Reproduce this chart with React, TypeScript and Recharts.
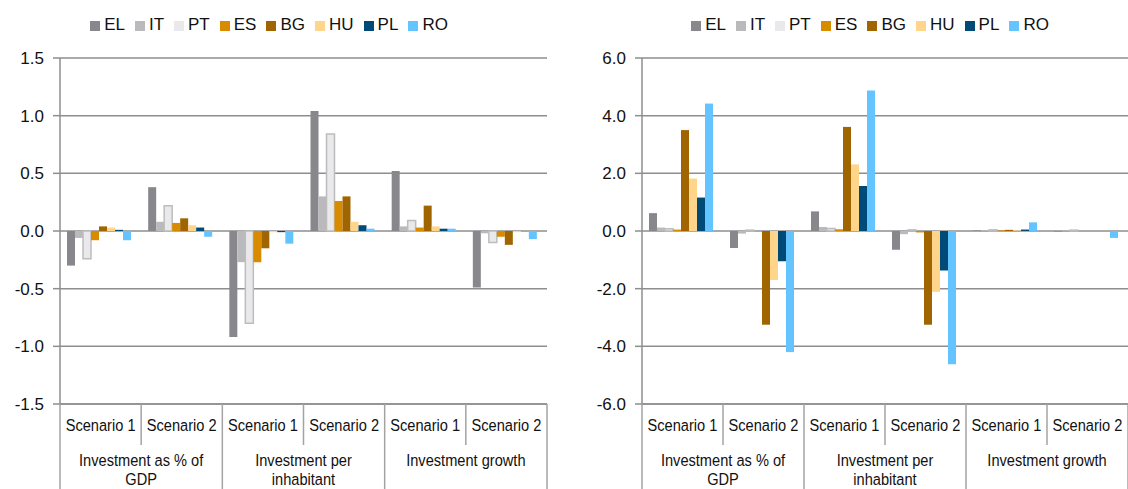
import { Bar, BarChart, CartesianGrid, Legend, XAxis, YAxis } from 'recharts'

const scenarios = ['Scenario 1', 'Scenario 2', 'Scenario 1', 'Scenario 2', 'Scenario 1', 'Scenario 2']
const groupLines = [['Investment as % of', 'GDP'], ['Investment per', 'inhabitant'], ['Investment growth']]
const countries = ['EL', 'IT', 'PT', 'ES', 'BG', 'HU', 'PL', 'RO']

// left panel
const leftEL = [-0.3, 0.38, -0.92, 1.04, 0.52, -0.49]
const leftIT = [-0.06, 0.08, -0.27, 0.3, 0.04, -0.02]
const leftPT = [-0.24, 0.22, -0.8, 0.84, 0.09, -0.1]
const leftES = [-0.08, 0.07, -0.27, 0.26, 0.03, -0.05]
const leftBG = [0.04, 0.11, -0.15, 0.3, 0.22, -0.12]
const leftHU = [0.03, 0.05, -0.01, 0.08, 0.04, -0.01]
const leftPL = [0.01, 0.03, -0.01, 0.05, 0.02, 0.0]
const leftRO = [-0.08, -0.05, -0.11, 0.02, 0.02, -0.07]
const leftTicks = [-1.5, -1.0, -0.5, 0, 0.5, 1.0, 1.5]

// right panel
const rightEL = [0.62, -0.59, 0.68, -0.65, 0.02, -0.02]
const rightIT = [0.12, -0.09, 0.14, -0.11, 0.03, 0.02]
const rightPT = [0.08, 0.03, 0.09, 0.04, 0.04, 0.03]
const rightES = [0.05, 0.0, 0.06, -0.05, 0.02, 0.0]
const rightBG = [3.5, -3.25, 3.61, -3.25, 0.04, 0.0]
const rightHU = [1.82, -1.7, 2.31, -2.11, 0.02, 0.0]
const rightPL = [1.16, -1.05, 1.56, -1.37, 0.05, 0.0]
const rightRO = [4.42, -4.2, 4.87, -4.62, 0.3, -0.24]
const rightTicks = [-6, -4, -2, 0, 2, 4, 6]

const colors: Record<string, string> = {
  EL: '#88878c',
  IT: '#bababd',
  PT: '#e9e9eb',
  ES: '#d98b00',
  BG: '#a06500',
  HU: '#ffd58c',
  PL: '#004a78',
  RO: '#63c4ff',
}

const FONT = "'Liberation Sans', Arial, sans-serif"
const LINE = '#a3a3a3'

function buildRows(series: number[][]) {
  return scenarios.map((s, i) => {
    const row: Record<string, string | number> = { scenario: s }
    countries.forEach((c, k) => {
      row[c] = series[k][i]
    })
    return row
  })
}

const leftData = buildRows([leftEL, leftIT, leftPT, leftES, leftBG, leftHU, leftPL, leftRO])
const rightData = buildRows([rightEL, rightIT, rightPT, rightES, rightBG, rightHU, rightPL, rightRO])

// text squeezed horizontally, the source used a narrow face
function NarrowText({ x, y, children }: { x: number; y: number; children: string }) {
  return (
    <text transform={`translate(${x},${y}) scale(0.86,1)`} textAnchor="middle" fontSize={17} fontFamily={FONT} fill="#111">
      {children}
    </text>
  )
}

function CategoryTick(props: any) {
  const { x, y, payload } = props
  const half = payload.offset || 0
  const idx = payload.index
  const isGroupStart = idx % 2 === 0
  const lines = isGroupStart ? groupLines[idx / 2] : null
  return (
    <g>
      <line x1={x - half} x2={x - half} y1={y} y2={isGroupStart ? y + 90 : y + 41} stroke={LINE} strokeWidth={1.5} />
      {idx === scenarios.length - 1 && (
        <line x1={x + half} x2={x + half} y1={y} y2={y + 90} stroke={LINE} strokeWidth={1.5} />
      )}
      <NarrowText x={x} y={y + 27}>{payload.value}</NarrowText>
      {lines &&
        lines.map((t, j) => (
          <NarrowText key={j} x={x + half} y={y + 62 + j * 19}>
            {t}
          </NarrowText>
        ))}
    </g>
  )
}

function Panel({
  data,
  ticks,
  width,
  axisWidth,
  rightMargin,
  legendWidth,
}: {
  data: Record<string, string | number>[]
  ticks: number[]
  width: number
  axisWidth: number
  rightMargin: number
  legendWidth: number
}) {
  return (
    <BarChart
      width={width}
      height={489}
      data={data}
      margin={{ top: 38, right: rightMargin, left: 0, bottom: 0 }}
      barCategoryGap={7}
      barGap={0}
    >
      <CartesianGrid vertical={false} stroke="#8e8e8e" strokeWidth={1.5} />
      <XAxis
        dataKey="scenario"
        interval={0}
        height={85}
        tickLine={false}
        tickSize={0}
        tickMargin={0}
        axisLine={{ stroke: '#8e8e8e', strokeWidth: 1.5 }}
        tick={<CategoryTick />}
      />
      <YAxis
        width={axisWidth}
        domain={[ticks[0], ticks[ticks.length - 1]]}
        ticks={ticks}
        tickSize={7}
        tickMargin={9}
        tickLine={{ stroke: '#8e8e8e', strokeWidth: 1.5 }}
        axisLine={{ stroke: '#8e8e8e', strokeWidth: 1.5 }}
        tick={{ fontSize: 17, fill: '#111', fontFamily: FONT }}
        tickFormatter={(v: number) => v.toFixed(1)}
      />
      <Legend
        verticalAlign="top"
        height={20}
        iconType="square"
        iconSize={10}
        itemSorter={(item: any) => countries.indexOf(item.value)}
        wrapperStyle={{ top: 15, left: 0, width: legendWidth, fontSize: 17, fontFamily: FONT }}
        formatter={(v: string) => <span style={{ color: '#111' }}>{v}</span>}
      />
      {countries.map((c) => (
        <Bar
          key={c}
          dataKey={c}
          name={c}
          fill={colors[c]}
          stroke={c === 'PT' ? '#bdbdbd' : undefined}
          strokeWidth={c === 'PT' ? 1.5 : 0}
          isAnimationActive={false}
        />
      ))}
    </BarChart>
  )
}

export default function App() {
  return (
    <div style={{ position: 'absolute', left: 0, top: 0, width: 1128, height: 489, background: '#fff', display: 'flex' }}>
      <Panel data={leftData} ticks={leftTicks} width={560} axisWidth={60} rightMargin={13} legendWidth={548} />
      <Panel data={rightData} ticks={rightTicks} width={568} axisWidth={82} rightMargin={0} legendWidth={630} />
    </div>
  )
}
